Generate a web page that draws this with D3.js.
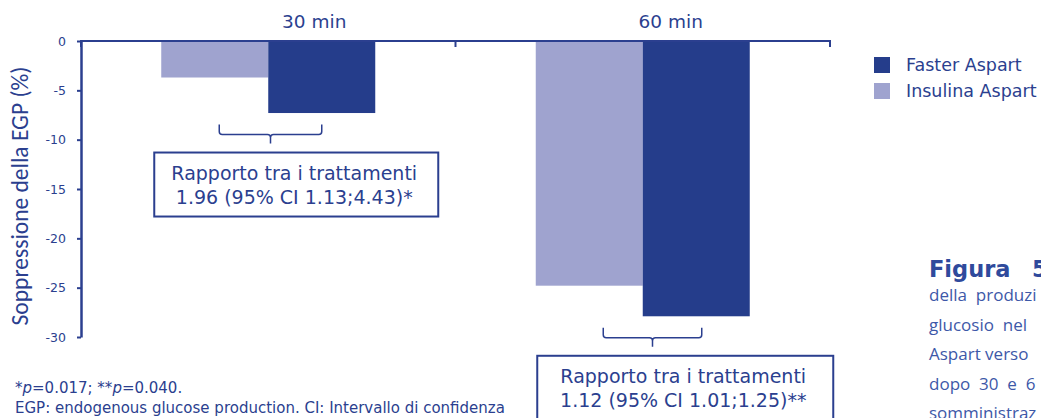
<!DOCTYPE html>
<html>
<head>
<meta charset="utf-8">
<script src="https://cdn.jsdelivr.net/npm/d3@7"></script>
<style>
  html, body { margin: 0; padding: 0; background: #fff; overflow: hidden; }
  svg { display: block; }
</style>
</head>
<body>
<svg id="chart" width="1041" height="418"></svg>
<script>
// ----- data -----
const categories = ["30 min", "60 min"]
const series = ["Insulina Aspart", "Faster Aspart"]
const insulinaAspart = [-3.7, -24.8]
const fasterAspart = [-7.3, -27.9]
const yTicks = [0, -5, -10, -15, -20, -25, -30]
const ratioTexts = [
    ["Rapporto tra i trattamenti", "1.96 (95% CI 1.13;4.43)*"],
    ["Rapporto tra i trattamenti", "1.12 (95% CI 1.01;1.25)**"]
]
const legendLabels = ["Faster Aspart", "Insulina Aspart"]
const yTitle = "Soppressione della EGP (%)"
const figureLines = ["della  produzi", "glucosio  nel", "Aspart verso", "dopo  30  e  6", "somministraz"]

// ----- setup -----
const svg = d3.select("svg#chart")
const ink = "#2b3f8f"
const colors = {"Faster Aspart": "#253d8b", "Insulina Aspart": "#9fa3cf"}
const verdana = "Verdana, 'DejaVu Sans', sans-serif"

const y = d3.scaleLinear().domain([0, -30]).range([41, 337])
const x0 = d3.scaleBand().domain(categories).range([81, 830]).padding(0)
const x1 = d3.scaleBand().domain(series).range([0, x0.bandwidth()])
                .paddingInner(0).paddingOuter(0.75)

// per group layout tweaks (label shift, bracket ends, box)
const layout = [
    {labelDx: 46, bl: 4.5, br: 0, boxDx: 28, boxW: 284},
    {labelDx: 28, bl: 14, br: 5.5, boxDx: 42.5, boxW: 296}
]

const rows = categories.map((c, i) => ({
    cat: c, values: [
        {s: "Insulina Aspart", v: insulinaAspart[i]},
        {s: "Faster Aspart", v: fasterAspart[i]}
    ]
}))

// bars
const groups = svg.selectAll("g.grp")
    .data(rows)
    .join("g")
    .attr("class", "grp")
    .attr("transform", d => `translate(${x0(d.cat)},0)`)

groups.selectAll("rect")
    .data(d => d.values)
    .join("rect")
    .attr("x", d => x1(d.s))
    .attr("y", y(0))
    .attr("width", x1.bandwidth())
    .attr("height", d => y(d.v) - y(0))
    .attr("fill", d => colors[d.s])

// y axis
const yAxis = svg.append("g")
    .attr("transform", "translate(81,0)")
    .call(d3.axisLeft(y).tickValues(yTicks).tickFormat(d => String(d))
            .tickSize(4).tickSizeOuter(0).tickPadding(11))
yAxis.select(".domain").attr("stroke", ink).attr("stroke-width", 2.5)
yAxis.selectAll(".tick line").attr("stroke", ink).attr("stroke-width", 2)
yAxis.selectAll(".tick text")
    .attr("fill", ink).attr("font-family", verdana).attr("font-size", "12.5px")

// top category axis (line at y = 0)
svg.append("line")
    .attr("x1", 80).attr("x2", 831)
    .attr("y1", y(0)).attr("y2", y(0))
    .attr("stroke", ink).attr("stroke-width", 2)

const bounds = [x0.range()[0]].concat(categories.map(c => x0(c) + x0.bandwidth()))
svg.selectAll("line.btick")
    .data(bounds)
    .join("line")
    .attr("class", "btick")
    .attr("x1", d => d).attr("x2", d => d)
    .attr("y1", y(0)).attr("y2", y(0) + 6)
    .attr("stroke", ink).attr("stroke-width", 2)

svg.selectAll("text.cat")
    .data(categories)
    .join("text")
    .attr("class", "cat")
    .attr("x", (d, i) => x0(d) + x0.bandwidth() / 2 + layout[i].labelDx)
    .attr("y", 28)
    .attr("text-anchor", "middle")
    .attr("fill", ink)
    .attr("font-family", verdana)
    .attr("font-size", "18.5px")
    .text(d => d)

// brackets + ratio boxes
rows.forEach((r, i) => {
    const L = layout[i]
    const left = x0(r.cat) + x1("Insulina Aspart") + x1.bandwidth() / 2 + L.bl
    const right = x0(r.cat) + x1("Faster Aspart") + x1.bandwidth() / 2 + L.br
    const cx = (left + right) / 2
    const top = y(d3.min(r.values, d => d.v)) + 11.5
    const mid = top + 10
    const bot = top + 19

    const p = d3.path()
    p.moveTo(left, top); p.lineTo(left, mid - 3)
    p.quadraticCurveTo(left, mid, left + 3, mid); p.lineTo(cx - 3, mid)
    p.quadraticCurveTo(cx, mid, cx, mid + 3); p.lineTo(cx, bot)
    p.moveTo(cx, mid + 3); p.quadraticCurveTo(cx, mid, cx + 3, mid)
    p.lineTo(right - 3, mid); p.quadraticCurveTo(right, mid, right, mid - 3)
    p.lineTo(right, top)
    svg.append("path").attr("d", p.toString())
        .attr("fill", "none").attr("stroke", ink).attr("stroke-width", 1.5)

    const bcx = x0(r.cat) + x0.bandwidth() / 2 + L.boxDx
    const btop = bot + 9
    svg.append("rect")
        .attr("x", bcx - L.boxW / 2).attr("y", btop)
        .attr("width", L.boxW).attr("height", 64)
        .attr("fill", "#fff").attr("stroke", ink).attr("stroke-width", 2)
    svg.selectAll(null)
        .data(ratioTexts[i])
        .join("text")
        .attr("x", bcx - 2)
        .attr("y", (d, k) => btop + 27.5 + k * 23.5)
        .attr("text-anchor", "middle")
        .attr("fill", ink)
        .attr("font-family", verdana)
        .attr("font-size", "19px")
        .text(d => d)
})

// y title
svg.append("text")
    .attr("transform", "translate(28,196) rotate(-90)")
    .attr("text-anchor", "middle")
    .attr("fill", ink)
    .attr("font-family", "Carlito, Calibri, Lato, sans-serif")
    .attr("font-size", "23.5px")
    .text(yTitle)

// legend
const leg = svg.selectAll("g.leg")
    .data(legendLabels)
    .join("g")
    .attr("class", "leg")
    .attr("transform", (d, i) => `translate(874,${57 + i * 26})`)
leg.append("rect").attr("width", 16).attr("height", 16).attr("fill", d => colors[d])
leg.append("text")
    .attr("x", 32).attr("y", 13.5)
    .attr("fill", ink)
    .attr("font-family", verdana)
    .attr("font-size", "17.5px")
    .text(d => d)

// footnotes
const foot = svg.append("g")
    .attr("fill", ink)
    .attr("font-family", verdana)
    .attr("font-size", "15px")
const f1 = foot.append("text").attr("x", 15).attr("y", 393)
f1.append("tspan").text("*")
f1.append("tspan").attr("font-style", "italic").text("p")
f1.append("tspan").text("=0.017; **")
f1.append("tspan").attr("font-style", "italic").text("p")
f1.append("tspan").text("=0.040.")
foot.append("text").attr("x", 15).attr("y", 413)
    .text("EGP: endogenous glucose production. CI: Intervallo di confidenza")

// figure caption (page text, cut by the frame as in the source)
const cap = svg.append("g").attr("fill", "#2f4a9c")
cap.append("text").attr("x", 929).attr("y", 277)
    .attr("font-family", "'DejaVu Sans', sans-serif").attr("font-weight", "bold")
    .attr("font-size", "22.5px").text("Figura")
cap.append("text").attr("x", 1032).attr("y", 277)
    .attr("font-family", "'DejaVu Sans', sans-serif").attr("font-weight", "bold")
    .attr("font-size", "22.5px").text("5")
cap.selectAll("text.line")
    .data(figureLines)
    .join("text")
    .attr("class", "line")
    .attr("x", 929)
    .attr("y", (d, i) => 301 + i * 29.5)
    .attr("fill", "#3d58a8")
    .attr("font-family", "'Open Sans', sans-serif")
    .attr("font-size", "17px")
    .style("white-space", "pre")
    .text(d => d)
</script>
</body>
</html>
